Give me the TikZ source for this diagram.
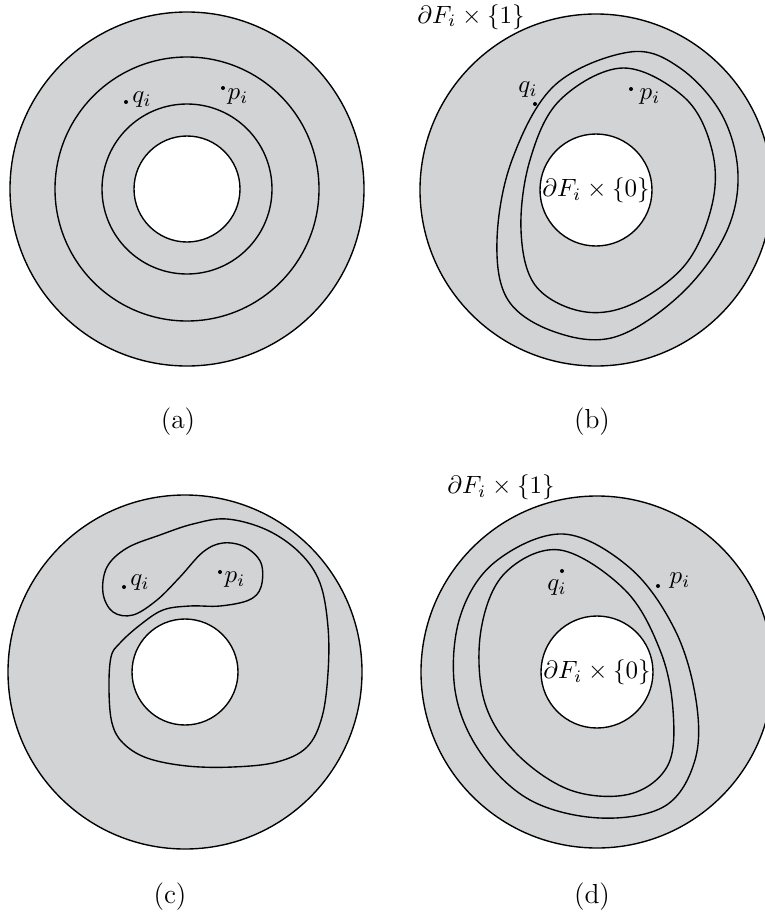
\documentclass[tikz,border=0pt]{standalone}
\usepackage{amsmath,amssymb}
\usepackage{tikz}
\usetikzlibrary{positioning}
\usepackage{xcolor}
\definecolor{diskfill}{HTML}{D1D3D4}
\tikzset{
  disk/.style={fill=diskfill, draw=black, line width=0.55pt, even odd rule},
  loopc/.style={draw=black, line width=0.55pt},
  ptdot/.style={fill=black},
  lbl/.style={inner sep=0pt},
  captext/.style={inner sep=0pt, font=\fontsize{11}{13}\selectfont},
}

\begin{document}
\begin{tikzpicture}[x=0.4pt, y=-0.4pt]
\useasboundingbox (0,0) rectangle (765,920);
\clip (0,0) rectangle (765,920);

% (a)
\coordinate (ca) at (187,189);
\path[disk] (ca) circle (177) (ca) circle (53);
\draw[loopc] (ca) circle (132) (ca) circle (85);
\coordinate (qa) at (126,102);
\coordinate (pa) at (223,88);
\fill[ptdot] (qa) circle (2) (pa) circle (2);
\node[lbl] (qla) at (142,100) {$q_i$};
\node[lbl] (pla) at (238,97) {$p_i$};
\node[captext] (capa) at (178,422) {(a)};

% (b)
\coordinate (cb) at (596,190);
\path[disk] (cb) circle (176) (cb) circle (56);
\draw[loopc] plot[smooth cycle, tension=0.6] coordinates {
  (630,52) (555,85) (512,160) (497,240) (508,300) (555,332) (615,337)
  (680,295) (725,235) (738,175) (722,115) (680,68)};
\draw[loopc] plot[smooth cycle, tension=0.6] coordinates {
  (623,68) (560,100) (530,160) (521,230) (535,285) (580,311) (630,305)
  (685,265) (712,205) (712,150) (685,98)};
\coordinate (qb) at (535,104);
\coordinate (pb) at (631,89);
\fill[ptdot] (qb) circle (2) (pb) circle (2);
\node[lbl] (qlb) at (528,90) {$q_i$};
\node[lbl] (plb) at (650,97) {$p_i$};
\node[lbl] (topb) at (471,17) {$\partial F_i\times\{1\}$};
\node[lbl] (holeb) at (cb) {$\partial F_i\times\{0\}$};
\node[captext] (capb) at (592,422) {(b)};

% (c)
\coordinate (cc) at (185,672);
\path[disk] (cc) circle (177) (cc) circle (53);
\draw[loopc] plot[smooth cycle, tension=0.6] coordinates {
  (227,519) (267,530) (300,553) (320,583) (328,627) (328,673) (322,717)
  (307,747) (277,762) (233,767) (187,766) (147,758) (123,743) (112,723)
  (109,690) (111,657) (120,643) (140,625) (163,610) (190,606) (220,606)
  (249,600) (261,587) (261,563) (245,547) (223,543) (203,552) (180,577)
  (157,600) (133,615) (113,612) (103,593) (107,567) (127,548) (160,535)
  (193,524)};
\coordinate (qc) at (124,587);
\coordinate (pc) at (220,572);
\fill[ptdot] (qc) circle (2) (pc) circle (2);
\node[lbl] (qlc) at (140,583) {$q_i$};
\node[lbl] (plc) at (235,580) {$p_i$};
\node[captext] (capc) at (170,897) {(c)};

% (d)
\coordinate (cd) at (597,672);
\path[disk] (cd) circle (176) (cd) circle (56);
\draw[loopc] plot[smooth cycle, tension=0.6] coordinates {
  (563,534) (495,562) (460,617) (455,690) (480,752) (530,800) (600,818)
  (665,806) (695,760) (696,700) (675,630) (630,568)};
\draw[loopc] plot[smooth cycle, tension=0.6] coordinates {
  (560,550) (505,573) (481,630) (484,700) (515,752) (570,790) (630,794)
  (668,765) (673,710) (660,650) (625,590)};
\coordinate (qd) at (562,571);
\coordinate (pd) at (658,586);
\fill[ptdot] (qd) circle (2) (pd) circle (2);
\node[lbl] (qld) at (557,588) {$q_i$};
\node[lbl] (pld) at (680,581) {$p_i$};
\node[lbl] (topd) at (501,487) {$\partial F_i\times\{1\}$};
\node[lbl] (holed) at (cd) {$\partial F_i\times\{0\}$};
\node[captext] (capd) at (592,897) {(d)};
\end{tikzpicture}
\end{document}
